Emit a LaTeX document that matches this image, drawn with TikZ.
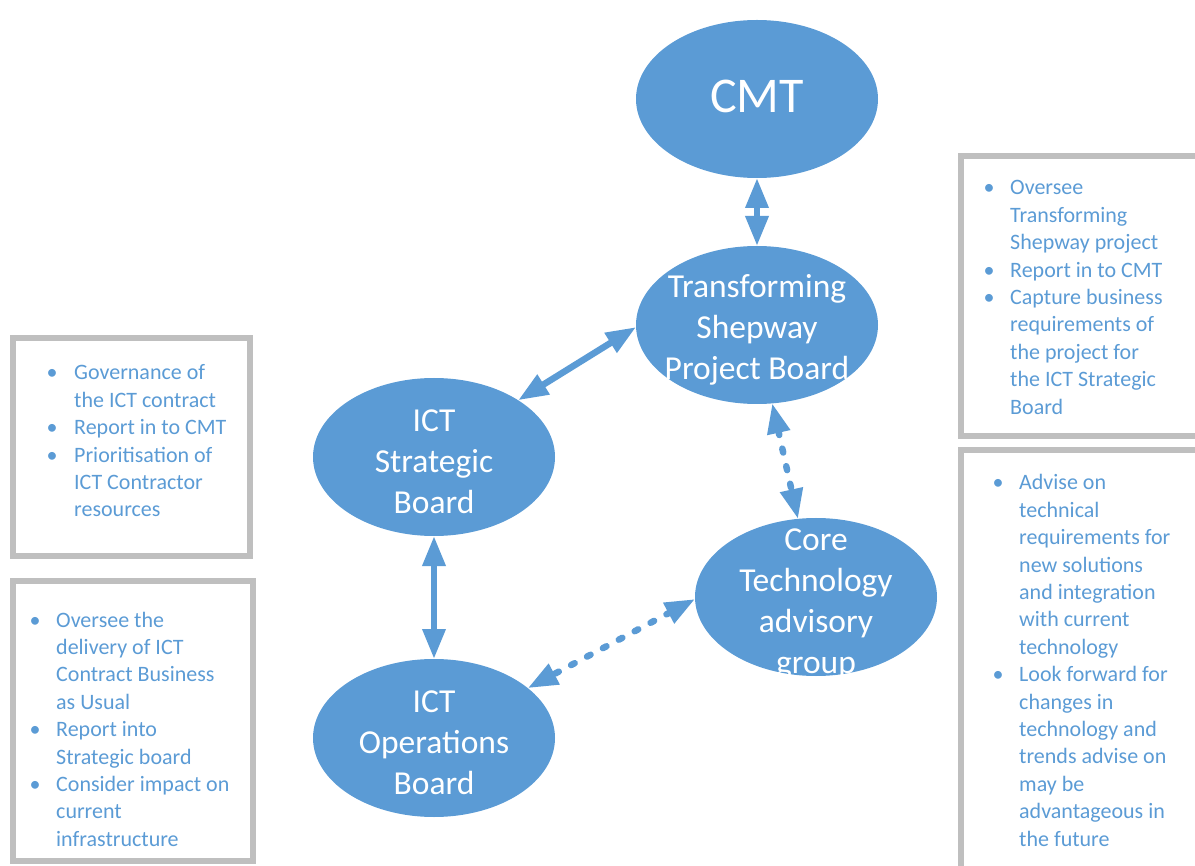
\documentclass[tikz,border=0pt]{standalone}
\usepackage{fontspec}
\setmainfont{Carlito}
\usetikzlibrary{shapes.geometric,arrows.meta}
\definecolor{boardblue}{HTML}{5B9BD5}
\definecolor{framegray}{HTML}{BFBFBF}
\newcommand\notebullet{\makebox[0pt]{•}}
\begin{document}
\begin{tikzpicture}[x=1pt, y=-1pt,
    board/.style={ellipse, fill=boardblue, minimum width=242pt, minimum height=158pt, inner sep=0pt, outer sep=0pt},
    boardtext/.style={text=white, align=center, yshift=-5pt, font=\fontsize{33.5}{41}\selectfont},
    link/.style={draw=boardblue, line width=6.5pt, arrows={Triangle[width=22pt,length=30pt]-Triangle[width=22pt,length=30pt]}},
    dashlink/.style={link, line cap=round, dash pattern=on 4pt off 14pt},
    notebox/.style={draw=framegray, line width=5.5pt},
    note/.style={anchor=base west, inner sep=0pt, text=boardblue, align=left, font=\fontsize{22}{27.4}\selectfont}]
    \useasboundingbox (0,0) rectangle (1195,866);
    \clip (0,0) rectangle (1195,866);

    % boards
    \node[board, label={[boardtext, yshift=8pt, font=\fontsize{50}{60}\selectfont]center:CMT}] (cmt) at (757,99) {};
    \node[board, label={[boardtext]center:{Transforming\\Shepway\\Project Board}}] (tsp) at (757,325) {};
    \node[board, label={[boardtext]center:{ICT\\Strategic\\Board}}] (strategic) at (434,457) {};
    \node[board, label={[boardtext, yshift=-2pt]center:{Core\\Technology\\advisory\\group}}] (core) at (816,597) {};
    \node[board, label={[boardtext]center:{ICT\\Operations\\Board}}] (ops) at (434,738) {};

    % links between boards
    \draw[link] (cmt.south) -- (tsp.north);
    \draw[link] (strategic.34) -- (tsp.181);
    \draw[link] (strategic.south) -- (ops.north);
    \draw[dashlink] (tsp.-79) -- (core.103);
    \draw[dashlink] (core.181) -- (ops.28);

    % notes
    \draw[notebox] (13,338) rectangle (250,556);
    \draw[notebox] (13,581) rectangle (253,861);
    \draw[notebox] (961,156) rectangle (1210,436);
    \draw[notebox] (961,450) rectangle (1210,880);

    \node[note] (strategicnote) at (52,380) {\begin{tabular}[t]{@{}p{22pt}@{}l@{}}
        \notebullet & Governance of\\
        & the ICT contract\\
        \notebullet & Report in to CMT\\
        \notebullet & Prioritisation of\\
        & ICT Contractor\\
        & resources
    \end{tabular}};
    \node[note] (opsnote) at (35,627) {\begin{tabular}[t]{@{}p{21pt}@{}l@{}}
        \notebullet & Oversee the\\
        & delivery of ICT\\
        & Contract Business\\
        & as Usual\\
        \notebullet & Report into\\
        & Strategic board\\
        \notebullet & Consider impact on\\
        & current\\
        & infrastructure
    \end{tabular}};
    \node[note] (tspnote) at (989,195) {\begin{tabular}[t]{@{}p{21pt}@{}l@{}}
        \notebullet & Oversee\\
        & Transforming\\
        & Shepway project\\
        \notebullet & Report in to CMT\\
        \notebullet & Capture business\\
        & requirements of\\
        & the project for\\
        & the ICT Strategic\\
        & Board
    \end{tabular}};
    \node[note] (corenote) at (998,490) {\begin{tabular}[t]{@{}p{21pt}@{}l@{}}
        \notebullet & Advise on\\
        & technical\\
        & requirements for\\
        & new solutions\\
        & and integration\\
        & with current\\
        & technology\\
        \notebullet & Look forward for\\
        & changes in\\
        & technology and\\
        & trends advise on\\
        & may be\\
        & advantageous in\\
        & the future
    \end{tabular}};
\end{tikzpicture}
\end{document}
